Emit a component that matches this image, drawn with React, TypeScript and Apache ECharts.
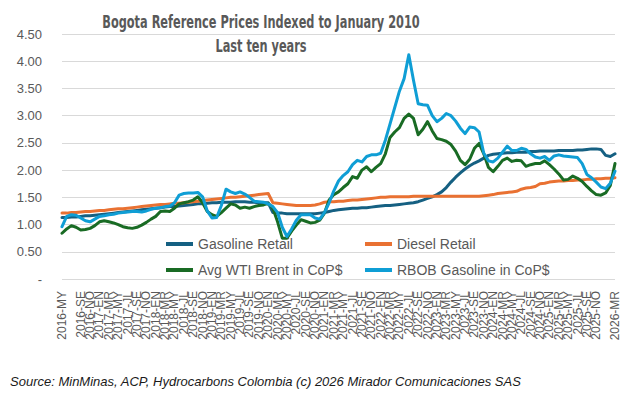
import React, { useEffect, useRef } from "react";
import * as echarts from "echarts";

const monthAbbr = ["EN", "FB", "MR", "AB", "MY", "JN", "JL", "AG", "SE", "OC", "NO", "DI"];
const startYear = 2016;
const startMonthIndex = 4; // May
const monthCount = 119;
const categories: string[] = [];
for (let k = 0; k < monthCount; k++) {
  const m = startMonthIndex + k;
  categories.push(`${startYear + Math.floor(m / 12)}-${monthAbbr[m % 12]}`);
}

const gasolineRetail = [
  1.13, 1.13, 1.14, 1.14, 1.15, 1.16, 1.16, 1.17,
  1.18, 1.19, 1.20, 1.21, 1.22, 1.23, 1.24, 1.25, 1.26, 1.27, 1.28, 1.29,
  1.30, 1.31, 1.32, 1.33, 1.33, 1.34, 1.35, 1.36, 1.37, 1.38, 1.38, 1.39,
  1.40, 1.40, 1.41, 1.41, 1.41, 1.42, 1.42, 1.42, 1.41, 1.41, 1.40, 1.40,
  1.40, 1.22, 1.21, 1.21, 1.20, 1.20, 1.20, 1.20, 1.20, 1.20, 1.20, 1.21,
  1.22, 1.24, 1.26, 1.27, 1.28, 1.29, 1.30, 1.30, 1.31, 1.31, 1.32, 1.33,
  1.34, 1.35, 1.35, 1.36, 1.37, 1.38, 1.39, 1.40, 1.42, 1.45, 1.48, 1.51,
  1.55, 1.60, 1.68, 1.78, 1.87, 1.95, 2.02, 2.08, 2.13, 2.17, 2.22, 2.27,
  2.29, 2.30, 2.31, 2.32, 2.32, 2.33, 2.33, 2.33, 2.34, 2.34, 2.35, 2.35,
  2.35, 2.35, 2.36, 2.36, 2.36, 2.36, 2.37, 2.37, 2.38, 2.39, 2.39, 2.38,
  2.27, 2.25, 2.30,
];

const dieselRetail = [
  1.21, 1.21, 1.22, 1.22, 1.23, 1.24, 1.24, 1.25,
  1.26, 1.26, 1.27, 1.28, 1.29, 1.29, 1.30, 1.31, 1.32, 1.33, 1.34, 1.35,
  1.36, 1.37, 1.37, 1.38, 1.39, 1.39, 1.40, 1.41, 1.42, 1.43, 1.44, 1.45,
  1.46, 1.47, 1.48, 1.49, 1.50, 1.50, 1.51, 1.52, 1.53, 1.54, 1.55, 1.56,
  1.57, 1.40, 1.39, 1.38, 1.37, 1.36, 1.35, 1.35, 1.35, 1.35, 1.36, 1.38,
  1.41, 1.42, 1.42, 1.43, 1.43, 1.44, 1.45, 1.45, 1.46, 1.47, 1.48, 1.49,
  1.50, 1.50, 1.51, 1.51, 1.51, 1.51, 1.51, 1.52, 1.52, 1.52, 1.52, 1.52,
  1.52, 1.52, 1.52, 1.52, 1.52, 1.52, 1.52, 1.52, 1.52, 1.52, 1.53, 1.54,
  1.55, 1.57, 1.58, 1.59, 1.60, 1.61, 1.65, 1.67, 1.68, 1.70, 1.75, 1.76,
  1.78, 1.79, 1.80, 1.80, 1.81, 1.81, 1.82, 1.82, 1.83, 1.83, 1.84, 1.84,
  1.85, 1.85, 1.86,
];

const wtiBrentCop = [
  0.84, 0.92, 0.98, 0.95, 0.90, 0.91, 0.93, 0.98,
  1.05, 1.07, 1.05, 1.03, 1.00, 0.96, 0.94, 0.93, 0.95, 0.99, 1.04, 1.10,
  1.15, 1.24, 1.25, 1.24, 1.30, 1.38, 1.40, 1.42, 1.45, 1.51, 1.40, 1.24,
  1.18, 1.15, 1.22, 1.30, 1.38, 1.36, 1.30, 1.32, 1.30, 1.33, 1.35, 1.36,
  1.39, 1.30, 1.05, 0.75, 0.75, 0.88, 0.99, 1.09, 1.06, 1.03, 1.04, 1.08,
  1.21, 1.45, 1.55, 1.60, 1.68, 1.75, 1.88, 1.85, 2.00, 2.06, 1.97, 2.05,
  2.12, 2.30, 2.60, 2.70, 2.78, 2.95, 3.03, 2.95, 2.65, 2.75, 2.89, 2.72,
  2.58, 2.56, 2.53, 2.47, 2.35, 2.18, 2.10, 2.20, 2.40, 2.49, 2.30, 2.05,
  1.97, 2.07, 2.18, 2.22, 2.16, 2.18, 2.17, 2.07, 2.10, 2.12, 2.12, 2.17,
  2.10, 2.02, 1.93, 1.82, 1.83, 1.89, 1.85, 1.79, 1.70, 1.62, 1.55, 1.54,
  1.58, 1.72, 2.12,
];

const rbobCop = [
  0.96, 1.15, 1.18, 1.17, 1.12, 1.07, 1.05, 1.10,
  1.15, 1.16, 1.18, 1.19, 1.21, 1.22, 1.23, 1.24, 1.24, 1.23, 1.25, 1.28,
  1.30, 1.31, 1.33, 1.34, 1.40, 1.54, 1.57, 1.58, 1.58, 1.59, 1.51, 1.25,
  1.12, 1.13, 1.35, 1.65, 1.60, 1.57, 1.60, 1.56, 1.50, 1.43, 1.42, 1.41,
  1.38, 1.33, 1.22, 0.95, 0.78, 0.92, 1.08, 1.18, 1.18, 1.18, 1.12, 1.10,
  1.22, 1.40, 1.62, 1.80, 1.90, 1.97, 2.10, 2.18, 2.15, 2.25, 2.28, 2.28,
  2.31, 2.55, 2.85, 3.15, 3.45, 3.68, 4.12, 3.65, 3.22, 3.20, 3.19, 3.00,
  2.89, 2.95, 3.04, 3.00, 2.90, 2.77, 2.67, 2.79, 2.78, 2.70, 2.31, 2.17,
  2.15, 2.22, 2.33, 2.44, 2.36, 2.36, 2.40, 2.38, 2.30, 2.24, 2.22, 2.25,
  2.18, 2.26, 2.28, 2.26, 2.25, 2.24, 2.23, 2.12, 1.92, 1.86, 1.78, 1.69,
  1.66, 1.76, 1.98,
];

const seriesNames = ["Gasoline Retail", "Diesel Retail", "Avg WTI Brent in CoP$", "RBOB Gasoline in CoP$"];
const seriesColors = ["#156082", "#E97132", "#196B24", "#0F9ED5"];
const seriesData = [gasolineRetail, dieselRetail, wtiBrentCop, rbobCop];

const titleText = "Bogota Reference Prices Indexed to January 2010";
const subtitleText = "Last ten years";
const sourceText = "Source: MinMinas, ACP, Hydrocarbons Colombia (c) 2026 Mirador Comunicaciones SAS";

const FONT = '"Liberation Sans", Arial, sans-serif';
const NARROW = '"DejaVu Sans Condensed", "Liberation Sans", sans-serif';

export default function App() {
  const ref = useRef<HTMLDivElement>(null);
  useEffect(() => {
    if (!ref.current) return;
    const chart = echarts.init(ref.current, undefined, { renderer: "svg" });
    const legendCommon = {
      orient: "vertical",
      padding: 0,
      itemWidth: 27,
      itemHeight: 4,
      itemGap: 10,
      icon: "rect",
      selectedMode: false,
      textStyle: { fontSize: 14, color: "#595959", fontFamily: FONT, lineHeight: 16 },
    };
    chart.setOption({
      animation: false,
      backgroundColor: "#ffffff",
      grid: { left: 62, right: 16, top: 34, bottom: 115 },
      legend: [
        { ...legendCommon, left: 166, top: 236, data: [seriesNames[0], seriesNames[2]] },
        { ...legendCommon, left: 365, top: 236, data: [seriesNames[1], seriesNames[3]] },
      ],
      xAxis: {
        type: "category",
        data: categories,
        boundaryGap: false,
        axisLine: { show: false },
        axisTick: { show: false },
        axisLabel: {
          interval: 1,
          rotate: 90,
          margin: 12,
          fontSize: 12,
          color: "#595959",
          fontFamily: FONT,
          showMinLabel: true,
          showMaxLabel: true,
          hideOverlap: false,
        },
      },
      yAxis: {
        type: "value",
        min: 0,
        max: 4.5,
        interval: 0.5,
        axisLine: { show: false },
        axisTick: { show: false },
        splitLine: { lineStyle: { color: "#D9D9D9", width: 1 } },
        axisLabel: {
          margin: 20,
          fontSize: 13,
          color: "#595959",
          fontFamily: FONT,
          formatter: (v: number) => (v === 0 ? "-" : v.toFixed(2)),
        },
      },
      series: seriesNames.map((name, k) => ({
        name,
        type: "line",
        data: seriesData[k],
        symbol: "none",
        color: seriesColors[k],
        lineStyle: { width: 3, color: seriesColors[k], join: "round", cap: "round" },
      })),
      graphic: [
        {
          type: "text",
          x: 261,
          y: 22,
          scaleX: 0.742,
          style: {
            text: titleText,
            fontSize: 17,
            fontWeight: "bold",
            fontFamily: NARROW,
            fill: "#595959",
            align: "center",
            verticalAlign: "middle",
          },
        },
        {
          type: "text",
          x: 261,
          y: 46,
          scaleX: 0.742,
          style: {
            text: subtitleText,
            fontSize: 17,
            fontWeight: "bold",
            fontFamily: NARROW,
            fill: "#595959",
            align: "center",
            verticalAlign: "middle",
          },
        },
        {
          type: "text",
          x: 10,
          y: 381,
          style: {
            text: sourceText,
            fontSize: 13,
            fontStyle: "italic",
            fontFamily: FONT,
            fill: "#1a1a1a",
            align: "left",
            verticalAlign: "middle",
          },
        },
      ],
    });
    return () => chart.dispose();
  }, []);
  return (
    <div
      ref={ref}
      style={{ position: "fixed", left: 0, top: 0, width: 631, height: 394, background: "#fff" }}
    />
  );
}
